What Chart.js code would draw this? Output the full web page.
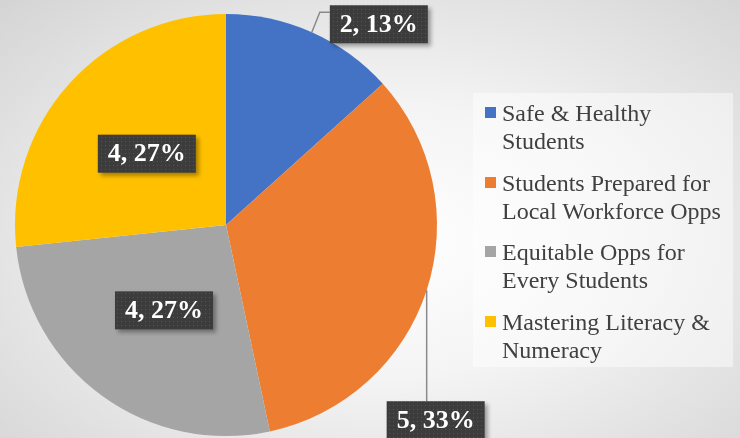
<!DOCTYPE html>
<html>
<head>
<meta charset="utf-8">
<script src="https://cdn.jsdelivr.net/npm/chart.js@4"></script>
<style>
  html, body { margin: 0; padding: 0; }
  body {
    width: 740px; height: 438px; overflow: hidden; position: relative;
    background: radial-gradient(ellipse farthest-corner at 52% 55%, #ffffff 0%, #f4f4f4 40%, #d4d4d4 100%);
  }
  #wrap { position: absolute; left: 0; top: 0; width: 740px; height: 438px; }
  #legend {
    position: absolute; left: 473px; top: 93px; width: 260px; height: 274px;
    background: rgba(255,255,255,0.45); box-sizing: border-box; padding: 6px 0 0 0;
    font-family: "Liberation Serif", "Times New Roman", serif; font-size: 24px;
    color: #404040; line-height: 28px; white-space: nowrap;
  }
  .item { position: relative; padding-left: 29px; height: 56px; margin-bottom: 13.5px; }
  .sw { position: absolute; left: 12px; top: 8px; width: 11px; height: 11px; }
</style>
</head>
<body>
<div id="wrap"><canvas id="myChart" width="740" height="438"></canvas></div>
<div id="legend"></div>
<script>
var labels = ['Safe & Healthy Students', 'Students Prepared for Local Workforce Opps', 'Equitable Opps for Every Students', 'Mastering Literacy & Numeracy']
var legendLines = [['Safe & Healthy', 'Students'], ['Students Prepared for', 'Local Workforce Opps'], ['Equitable Opps for', 'Every Students'], ['Mastering Literacy &', 'Numeracy']]
var values = [2, 5, 4, 4]
var colors = ['#4472C4', '#ED7D31', '#A5A5A5', '#FFC000']

// where each data label goes: inside at a fraction of the radius, or outside with a leader line
var labelPlace = [
    {out: true, dx: 67, dy: -8, elbow: true},
    {out: true, dx: 9, dy: 130},
    {out: false, r: 0.5},
    {out: false, r: 0.505}
]

// legend
var lg = document.getElementById('legend')
for (let i = 0; i < labels.length; i++) {
    let d = document.createElement('div')
    d.className = 'item'
    d.innerHTML = '<span class="sw" style="background:' + colors[i] + '"></span>' + legendLines[i].join('<br>')
    lg.appendChild(d)
}

function dotPattern(ctx) {
    const c = document.createElement('canvas')
    c.width = 4; c.height = 4
    const p = c.getContext('2d')
    p.fillStyle = '#3c3c3c'
    p.fillRect(0, 0, 4, 4)
    p.fillStyle = '#555555'
    p.fillRect(1, 1, 1, 1)
    return ctx.createPattern(c, 'repeat')
}

const dataLabels = {
    id: 'dataLabels',
    afterDatasetsDraw(chart) {
        const ctx = chart.ctx
        const meta = chart.getDatasetMeta(0)
        const total = values.reduce((a, b) => a + b, 0)
        ctx.save()
        ctx.font = 'bold 26px "Liberation Serif", "Times New Roman", serif'
        ctx.textAlign = 'center'
        ctx.textBaseline = 'middle'
        for (let i = 0; i < meta.data.length; i++) {
            const arc = meta.data[i]
            const mid = (arc.startAngle + arc.endAngle) / 2
            const R = arc.outerRadius
            const pl = labelPlace[i]
            const text = values[i] + ', ' + Math.round(values[i] / total * 100) + '%'
            const w = ctx.measureText(text).width + 20
            const h = 38
            let cx, cy
            const ex = arc.x + Math.cos(mid) * R
            const ey = arc.y + Math.sin(mid) * R
            if (pl.out) {
                cx = ex + pl.dx
                cy = ey + pl.dy
            } else {
                cx = arc.x + Math.cos(mid) * R * pl.r
                cy = arc.y + Math.sin(mid) * R * pl.r
            }
            const bx = cx - w / 2, by = cy - h / 2
            if (pl.out) {
                ctx.strokeStyle = '#8a8a8a'
                ctx.lineWidth = 1.5
                ctx.beginPath()
                ctx.moveTo(ex, ey)
                if (pl.elbow) {
                    ctx.lineTo(bx - 10, by + 7)
                    ctx.lineTo(bx, by + 7)
                } else {
                    ctx.lineTo(ex, by)
                }
                ctx.stroke()
            }
            ctx.save()
            ctx.shadowColor = 'rgba(0,0,0,0.35)'
            ctx.shadowBlur = 4
            ctx.shadowOffsetX = 3
            ctx.shadowOffsetY = 3
            ctx.fillStyle = dotPattern(ctx)
            ctx.fillRect(bx, by, w, h)
            ctx.restore()
            ctx.fillStyle = '#ffffff'
            ctx.fillText(text, cx, cy + 1)
        }
        ctx.restore()
    }
}

new Chart(document.getElementById('myChart'), {
    type: 'pie',
    data: {
        labels: labels,
        datasets: [{
            data: values,
            backgroundColor: colors,
            borderWidth: 0
        }]
    },
    options: {
        responsive: false,
        animation: false,
        layout: {
            padding: {left: 15, top: 14, right: 303, bottom: 2}
        },
        plugins: {
            legend: {display: false},
            tooltip: {enabled: false}
        }
    },
    plugins: [dataLabels]
})
</script>
</body>
</html>
